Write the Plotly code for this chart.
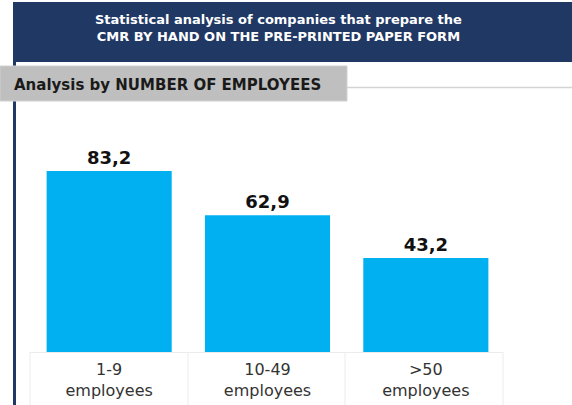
import plotly.graph_objects as go

# Data
categories = ["1-9<br>employees", "10-49<br>employees", ">50<br>employees"]
values = [83.2, 62.9, 43.2]
header_title = "Statistical analysis of companies that prepare the<br>CMR BY HAND ON THE PRE-PRINTED PAPER FORM"
section_title = "Analysis by NUMBER OF EMPLOYEES"

W, H = 572, 405
L, R, T, B = 30, 67, 110, 53
PW, PH = W - L - R, H - T - B

NAVY = "#1f3864"
BLUE = "#00b0f0"
FONT = "DejaVu Sans"


def px_x(px):
    return (px - L) / PW


def px_y(py):
    return (H - B - py) / PH


labels = [f"{v:.1f}".replace(".", ",") for v in values]

fig = go.Figure(
    go.Bar(
        x=list(range(len(values))),
        y=values,
        width=0.79,
        marker=dict(color=BLUE, line=dict(width=0)),
        text=labels,
        textposition="outside",
        textfont=dict(family=FONT, size=18, color="#111111", weight="bold"),
        cliponaxis=False,
        hoverinfo="skip",
    )
)

shapes = [
    # header band
    dict(type="rect", xref="paper", yref="paper",
         x0=px_x(13), x1=px_x(W), y0=px_y(62), y1=px_y(2),
         fillcolor=NAVY, line=dict(width=0), layer="below"),
    # left navy rule
    dict(type="rect", xref="paper", yref="paper",
         x0=px_x(13), x1=px_x(16), y0=px_y(H), y1=px_y(62),
         fillcolor=NAVY, line=dict(width=0), layer="below"),
    # thin divider line to the right of the section label
    dict(type="line", xref="paper", yref="paper",
         x0=px_x(347), x1=px_x(W), y0=px_y(87.5), y1=px_y(87.5),
         line=dict(color="#d4d4d4", width=1.5)),
    # section label box
    dict(type="rect", xref="paper", yref="paper",
         x0=px_x(0), x1=px_x(347), y0=px_y(101), y1=px_y(66),
         fillcolor="#bfbfbf", line=dict(color="#d0d0d0", width=1)),
]

# faint cell borders under the category labels
for bx in [30, 188, 345, 503]:
    shapes.append(dict(type="line", xref="paper", yref="paper",
                       x0=px_x(bx), x1=px_x(bx), y0=px_y(352), y1=px_y(H),
                       line=dict(color="#ececec", width=1)))
shapes.append(dict(type="line", xref="paper", yref="paper",
                   x0=px_x(30), x1=px_x(503), y0=px_y(352.5), y1=px_y(352.5),
                   line=dict(color="#ececec", width=1), layer="below"))

annotations = [
    dict(text=header_title, xref="paper", yref="paper",
         x=px_x(278), y=px_y(28.5), xanchor="center", yanchor="middle",
         showarrow=False, align="center",
         font=dict(family=FONT, size=13, color="white", weight="bold")),
    dict(text=section_title, xref="paper", yref="paper",
         x=px_x(12), y=px_y(85), xanchor="left", yanchor="middle",
         showarrow=False,
         font=dict(family=FONT, size=15, color="#1a1a1a", weight="bold")),
]

fig.update_layout(
    width=W, height=H,
    margin=dict(l=L, r=R, t=T, b=B, pad=0),
    paper_bgcolor="white", plot_bgcolor="white",
    showlegend=False,
    bargap=0.21,
    shapes=shapes,
    annotations=annotations,
    xaxis=dict(
        range=[-0.5, 2.5],
        tickmode="array",
        tickvals=list(range(len(categories))),
        ticktext=categories,
        showgrid=False, zeroline=False, showline=False, ticks="",
        tickfont=dict(family=FONT, size=16, color="#333333"),
        ticklabelstandoff=6,
        automargin=False,
        fixedrange=True,
    ),
    yaxis=dict(
        range=[0, PH / (181 / 83.2)],
        visible=False, showgrid=False, zeroline=False,
        automargin=False,
        fixedrange=True,
    ),
)

fig.write_html("out.html")
